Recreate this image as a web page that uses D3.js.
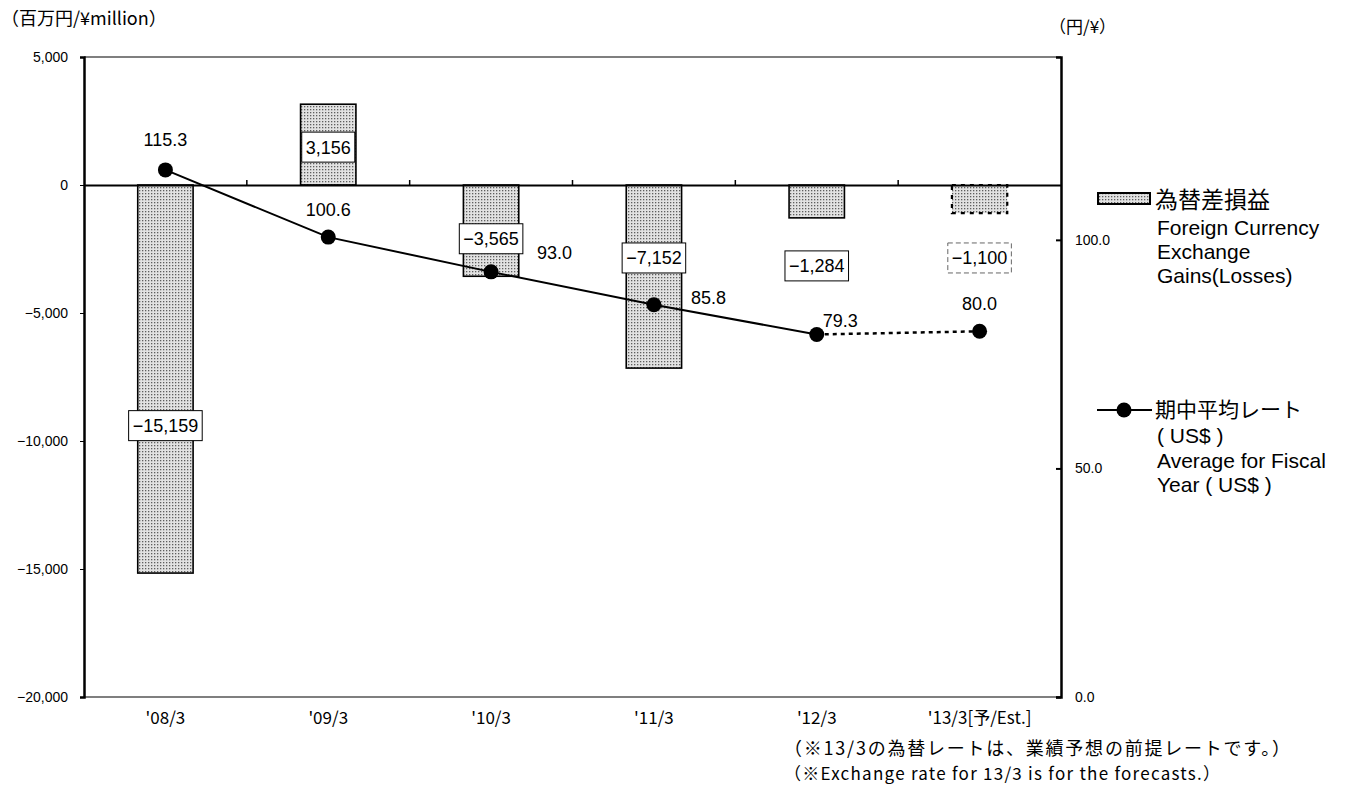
<!DOCTYPE html>
<html>
<head>
<meta charset="utf-8">
<script src="https://cdn.jsdelivr.net/npm/d3@7"></script>
<style>
  body { margin: 0; background: #fff; }
  svg text { font-family: "Liberation Sans", Arial, "Noto Sans CJK JP", sans-serif; fill: #000; }
  .jp { font-family: "Noto Sans CJK JP", "Liberation Sans", sans-serif; }
</style>
</head>
<body>
<svg id="chart"></svg>
<script>
// data
const categories = ["'08/3", "'09/3", "'10/3", "'11/3", "'12/3", "'13/3[予/Est.]"];
const gains = [-15159, 3156, -3565, -7152, -1284, -1100];
const rates = [115.3, 100.6, 93.0, 85.8, 79.3, 80.0];
const leftTicks = [5000, 0, -5000, -10000, -15000, -20000];
const rightTicks = [0, 50, 100];
// where Excel placed the boxed bar labels (left-axis units)
const gainLabelAt = [-9400, 1480, -2100, -2850, -3160, -2850];
// rate label offsets from the marker (px)
const rateLabelOffset = [[0, -30], [0, -28], [46, -19], [37, -7], [6, -14], [0, -28]];

const width = 1347, height = 800;
const margin = { left: 84, right: 286, top: 57, bottom: 103 };
const innerW = width - margin.left - margin.right;
const innerH = height - margin.top - margin.bottom;

const svg = d3.select("#chart").attr("width", width).attr("height", height);

const defs = svg.append("defs");
const pat = defs.append("pattern")
  .attr("id", "dots")
  .attr("patternUnits", "userSpaceOnUse")
  .attr("width", 3).attr("height", 3);
pat.append("rect").attr("width", 3).attr("height", 3).attr("fill", "#e2e2e2");
pat.append("rect").attr("x", 1).attr("y", 1).attr("width", 1.3).attr("height", 1.3).attr("fill", "#5e5e5e");

const x = d3.scaleBand().domain(categories).range([margin.left, margin.left + innerW]).paddingInner(0.66).paddingOuter(0.33);
const xc = d => x(d) + x.bandwidth() / 2;
const y = d3.scaleLinear().domain([-20000, 5000]).range([margin.top + innerH, margin.top]);
const y2 = d3.scaleLinear().domain([0, 140]).range([margin.top + innerH, margin.top]);

// frame
svg.append("line").attr("x1", margin.left).attr("x2", margin.left + innerW)
  .attr("y1", margin.top).attr("y2", margin.top).attr("stroke", "#000").attr("stroke-width", 1.2);
svg.append("line").attr("x1", margin.left).attr("x2", margin.left + innerW)
  .attr("y1", margin.top + innerH).attr("y2", margin.top + innerH).attr("stroke", "#000").attr("stroke-width", 1.2);

// bars
const bars = svg.append("g");
bars.selectAll("rect")
  .data(gains)
  .enter()
  .append("rect")
  .attr("x", (d, i) => x(categories[i]))
  .attr("width", x.bandwidth())
  .attr("y", d => y(Math.max(0, d)))
  .attr("height", d => Math.abs(y(d) - y(0)))
  .attr("fill", "url(#dots)")
  .attr("stroke", "#000")
  .attr("stroke-width", (d, i) => i === gains.length - 1 ? 2.2 : 1.6)
  .attr("stroke-dasharray", (d, i) => i === gains.length - 1 ? "4,5" : null);

// left axis
const yAxis = d3.axisLeft(y).tickValues(leftTicks).tickSize(4).tickFormat(d3.format(",")).tickPadding(12);
const gy = svg.append("g").attr("transform", `translate(${margin.left},0)`).call(yAxis);
gy.select(".domain").attr("stroke-width", 2.5);
gy.selectAll("text").attr("font-size", 14);

// right axis
const y2Axis = d3.axisRight(y2).tickValues(rightTicks).tickSize(-5).tickFormat(d3.format(".1f")).tickPadding(14);
const gy2 = svg.append("g").attr("transform", `translate(${margin.left + innerW},0)`).call(y2Axis);
gy2.select(".domain").attr("stroke-width", 2.5);
gy2.selectAll("line").attr("stroke-width", 2);
gy2.selectAll("text").attr("font-size", 14);

// zero line with category ticks
const gx = svg.append("g").attr("transform", `translate(0,${y(0)})`)
  .call(d3.axisTop(x).tickSize(0).tickFormat(""));
gx.select(".domain").attr("stroke-width", 2);
gx.selectAll(".tick").remove();
gx.selectAll("line.sep")
  .data(categories.slice(1))
  .enter()
  .append("line")
  .attr("class", "sep")
  .attr("x1", d => x(d) - x.step() * x.paddingInner() / 2)
  .attr("x2", d => x(d) - x.step() * x.paddingInner() / 2)
  .attr("y1", 0).attr("y2", -5)
  .attr("stroke", "#000").attr("stroke-width", 1.5);

// category labels at the bottom
svg.append("g").selectAll("text")
  .data(categories)
  .enter()
  .append("text")
  .attr("class", "jp")
  .attr("x", xc)
  .attr("y", margin.top + innerH + 27)
  .attr("text-anchor", "middle")
  .attr("font-size", 17)
  .text(d => d);

// bar value labels in boxes
const boxes = svg.append("g");
gains.forEach((v, i) => {
  const g = boxes.append("g").attr("transform", `translate(${xc(categories[i])},${y(gainLabelAt[i])})`);
  const t = g.append("text").attr("text-anchor", "middle").attr("dy", "0.36em").attr("font-size", 18)
    .text(d3.format(",")(v).replace("-", "\u2212"));
  const bb = t.node().getBBox();
  g.insert("rect", "text")
    .attr("x", bb.x - 4).attr("y", -15)
    .attr("width", bb.width + 8).attr("height", 30)
    .attr("fill", "#fff")
    .attr("stroke", i === gains.length - 1 ? "#666" : "#000")
    .attr("stroke-dasharray", i === gains.length - 1 ? "5,3" : null);
});

// rate line: solid for actuals, dashed to the forecast
const line = d3.line().x((d, i) => xc(categories[i])).y(d => y2(d));
const lastActual = rates.length - 2;
svg.append("path")
  .datum(rates.slice(0, lastActual + 1))
  .attr("d", line)
  .attr("fill", "none").attr("stroke", "#000").attr("stroke-width", 2);
svg.append("path")
  .attr("d", d3.line()([[xc(categories[lastActual]), y2(rates[lastActual])], [xc(categories[lastActual + 1]), y2(rates[lastActual + 1])]]))
  .attr("fill", "none").attr("stroke", "#000").attr("stroke-width", 2.5).attr("stroke-dasharray", "4,4");

svg.append("g").selectAll("circle")
  .data(rates)
  .enter()
  .append("circle")
  .attr("cx", (d, i) => xc(categories[i]))
  .attr("cy", d => y2(d))
  .attr("r", 7.5)
  .attr("fill", "#000");

svg.append("g").selectAll("text")
  .data(rates)
  .enter()
  .append("text")
  .attr("x", (d, i) => xc(categories[i]) + rateLabelOffset[i][0])
  .attr("y", (d, i) => y2(d) + rateLabelOffset[i][1])
  .attr("text-anchor", (d, i) => rateLabelOffset[i][0] > 0 ? "start" : "middle")
  .attr("dy", "0.36em")
  .attr("font-size", 18)
  .text(d => d.toFixed(1));

// axis titles
svg.append("text").attr("class", "jp").attr("x", 1).attr("y", 25).attr("font-size", 18).text("（百万円/¥million）");
svg.append("text").attr("class", "jp").attr("x", 1049).attr("y", 33).attr("font-size", 17).text("（円/¥）");

// legend
const lg = svg.append("g");
lg.append("rect").attr("x", 1098).attr("y", 193).attr("width", 52).attr("height", 11)
  .attr("fill", "url(#dots)").attr("stroke", "#000").attr("stroke-width", 2);
lg.append("text").attr("class", "jp").attr("x", 1155).attr("y", 208).attr("font-size", 23).text("為替差損益");
["Foreign Currency", "Exchange", "Gains(Losses)"].forEach((s, i) => {
  lg.append("text").attr("x", 1157).attr("y", 235 + i * 24).attr("font-size", 21).text(s);
});
lg.append("line").attr("x1", 1097).attr("x2", 1152).attr("y1", 410).attr("y2", 410).attr("stroke", "#000").attr("stroke-width", 2.2);
lg.append("circle").attr("cx", 1124).attr("cy", 410).attr("r", 7.5).attr("fill", "#000");
lg.append("text").attr("class", "jp").attr("x", 1155).attr("y", 417).attr("font-size", 21).text("期中平均レート");
lg.append("text").attr("x", 1157).attr("y", 443).attr("font-size", 21).text("( US$ )");
lg.append("text").attr("x", 1157).attr("y", 468).attr("font-size", 21).text("Average for Fiscal");
lg.append("text").attr("x", 1157).attr("y", 492).attr("font-size", 21).text("Year ( US$ )");

// footnotes
svg.append("text").attr("class", "jp").attr("x", 784).attr("y", 755).attr("font-size", 18)
  .attr("textLength", 506).attr("lengthAdjust", "spacing")
  .text("（※13/3の為替レートは、業績予想の前提レートです。）");
svg.append("text").attr("class", "jp").attr("x", 784).attr("y", 780).attr("font-size", 17)
  .attr("textLength", 436).attr("lengthAdjust", "spacing")
  .text("（※Exchange rate for 13/3 is for the forecasts.）");
</script>
</body>
</html>
